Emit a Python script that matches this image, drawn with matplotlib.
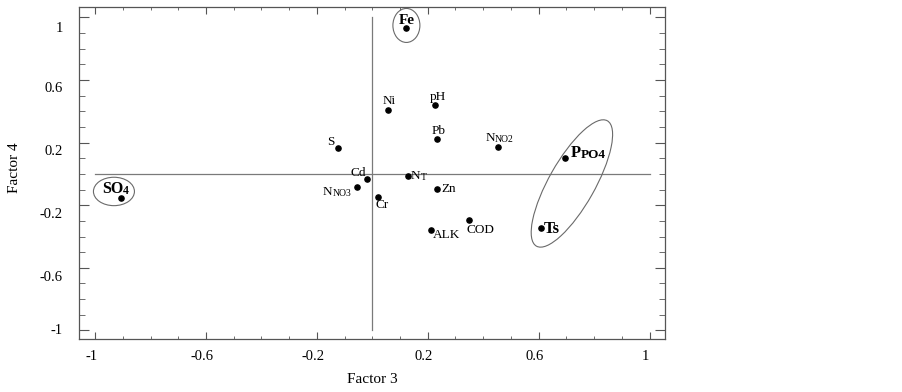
import matplotlib
matplotlib.use("Agg")
import matplotlib.pyplot as plt
from matplotlib.patches import Ellipse
from matplotlib.transforms import ScaledTranslation
from matplotlib.ticker import FixedLocator, MultipleLocator

plt.rcParams['font.family'] = ['Liberation Serif', 'DejaVu Serif']

# Factor loadings
names = ['Fe', 'SO4', 'PPO4', 'Ts', 'Ni', 'pH', 'Pb', 'NNO2', 'S',
         'Cd', 'NT', 'NNO3', 'Zn', 'Cr', 'COD', 'ALK']
factor3 = [0.123, -0.907, 0.696, 0.609, 0.058, 0.225, 0.233, 0.454, -0.124,
           -0.019, 0.130, -0.056, 0.233, 0.019, 0.349, 0.211]
factor4 = [0.930, -0.155, 0.100, -0.345, 0.410, 0.442, 0.225, 0.174, 0.168,
           -0.032, -0.011, -0.085, -0.094, -0.147, -0.296, -0.359]

major_ticks = [-1, -0.6, -0.2, 0.2, 0.6, 1]
tick_text = ['-1', '-0.6', '-0.2', '0.2', '0.6', '1']

# label look: main text, small suffix, offset (px), size, suffix size, weight
label_style = {
    'Fe':   ('Fe', '', -7.6, -8.3, 11, 0, 'bold'),
    'SO4':  ('SO', '4', -19, -9.3, 11.5, 8.5, 'bold'),
    'PPO4': ('P', 'PO4', 5.4, -5.3, 12, 9.5, 'bold'),
    'Ts':   ('Ts', '', 2.7, 1, 12, 0, 'bold'),
    'Ni':   ('Ni', '', -5.3, -9, 9.5, 0, 'normal'),
    'pH':   ('pH', '', -4.7, -8, 9.5, 0, 'normal'),
    'Pb':   ('Pb', '', -5, -8, 9.5, 0, 'normal'),
    'NNO2': ('N', 'NO2', -12.6, -8.7, 9.5, 7, 'normal'),
    'S':    ('S', '', -11.3, -5.4, 9.5, 0, 'normal'),
    'Cd':   ('Cd', '', -16.3, -6.3, 9.5, 0, 'normal'),
    'NT':   ('N', 'T', 2.7, 0, 9.5, 7, 'normal'),
    'NNO3': ('N', 'NO3', -33.7, 4.4, 9.5, 7, 'normal'),
    'Zn':   ('Zn', '', 4, 0, 9.5, 0, 'normal'),
    'Cr':   ('Cr', '', -1.7, 8.3, 9.5, 0, 'normal'),
    'COD':  ('COD', '', -2.3, 9.4, 9.5, 0, 'normal'),
    'ALK':  ('ALK', '', 1.6, 4.7, 9.5, 0, 'normal'),
}

# grouping ellipses: center (data), width/height (px), angle
groups = [
    ((0.123, 0.949), 27, 34, 0),
    ((-0.932, -0.112), 41, 28.4, 0),
    ((0.72, -0.061), 144, 46, 60.5),
]

fig = plt.figure(figsize=(9.02, 3.92), dpi=100)
ax = fig.add_axes([0.0879, 0.1352, 0.6494, 0.8462])
ax.set_xlim(-1.057, 1.056)
ax.set_ylim(-1.055, 1.065)

# zero lines
ax.plot([-1, 1], [0, 0], color='#7a7a7a', lw=0.9, zorder=1)
ax.plot([0, 0], [-1, 1], color='#7a7a7a', lw=0.9, zorder=1)

ax.scatter(factor3, factor4, s=14, color='black', zorder=3)

px = 0.72  # points per pixel at 100 dpi
for n, x, y in zip(names, factor3, factor4):
    main, small, dx, dy, size, ssize, weight = label_style[n]
    t = ax.annotate(main, (x, y), xytext=(dx * px, -dy * px),
                    textcoords='offset points', ha='left', va='center',
                    fontsize=size, fontweight=weight)
    if small:
        ax.annotate(small, xy=(1, 0), xycoords=t, ha='left', va='bottom',
                    fontsize=ssize, fontweight=weight)

for (cx, cy), w, h, ang in groups:
    tr = fig.dpi_scale_trans + ScaledTranslation(cx, cy, ax.transData)
    ax.add_patch(Ellipse((0, 0), w / 100, h / 100, angle=ang, transform=tr,
                         fill=False, edgecolor='#6a6a6a', lw=0.8))

# axes frame and ticks
for sp in ax.spines.values():
    sp.set_color('#555555')
    sp.set_linewidth(0.9)

ax.xaxis.set_major_locator(FixedLocator(major_ticks))
ax.yaxis.set_major_locator(FixedLocator(major_ticks))
ax.xaxis.set_minor_locator(MultipleLocator(0.1))
ax.yaxis.set_minor_locator(MultipleLocator(0.1))
ax.set_xticklabels(tick_text)
ax.set_yticklabels(tick_text)
ax.tick_params(which='both', direction='in', top=True, right=True,
               color='#555555', labelsize=10.5)
ax.tick_params(axis='x', which='major', length=5, pad=8)
ax.tick_params(axis='x', which='minor', length=2.2)
ax.tick_params(axis='y', which='major', length=7.5, pad=12)
ax.tick_params(axis='y', which='minor', length=4.3)

# the original labels sit a little below their ticks (order: -1 .. 1)
y_shift = [-1, 8, 8, 7, 7, 10]
for lab, s in zip(ax.get_yticklabels(), y_shift):
    lab.set_transform(lab.get_transform() +
                      ScaledTranslation(0, -s / 100, fig.dpi_scale_trans))
for lab in ax.get_xticklabels():
    lab.set_transform(lab.get_transform() +
                      ScaledTranslation(-4 / 100, 0, fig.dpi_scale_trans))

ax.set_xlabel('Factor 3', fontsize=11)
ax.set_ylabel('Factor 4', fontsize=11)
ax.xaxis.set_label_coords(0.5, -0.1025)
ax.yaxis.set_label_coords(-0.0995, 0.516)

fig.savefig('out.png', dpi=100)
